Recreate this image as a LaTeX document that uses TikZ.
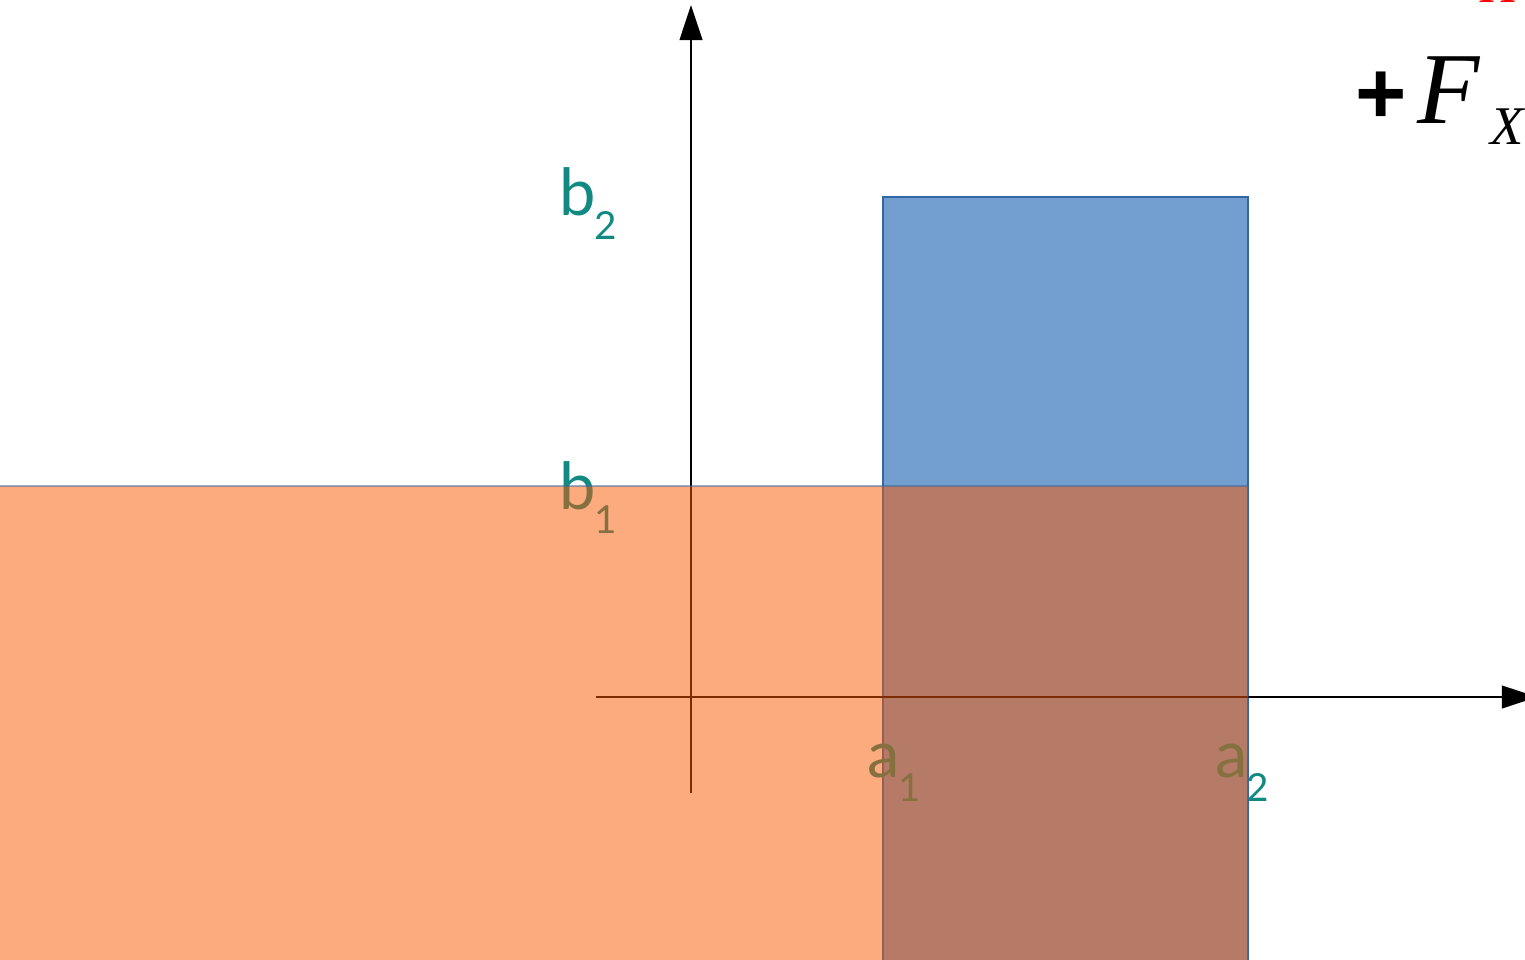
\documentclass[tikz,border=0pt]{standalone}
\usepackage{fontspec}
\setmainfont{Lato}
\newfontfamily\formulafont{Liberation Serif}
\newfontfamily\plusfont{Liberation Sans}
\usepackage{xcolor}
\usetikzlibrary{arrows.meta}

\definecolor{bluefill}{RGB}{114,159,207}
\definecolor{blueline}{RGB}{52,101,164}
\definecolor{orangefill}{RGB}{250,88,0}
\definecolor{labelteal}{RGB}{18,138,130}

% letter with a lowered index
\newcommand{\idxlabel}[2]{#1\hspace{-0.5pt}{\fontsize{11}{11}\selectfont\raisebox{-7pt}{#2}}}

\begin{document}
\begin{tikzpicture}[
  x=0.01cm, y=-0.01cm,
  axis/.style={line width=0.45pt, draw=black, -{Triangle[length=10pt, width=6.5pt]}},
  lbl/.style={anchor=base west, inner sep=0pt, text=labelteal,
              font=\fontsize{18.5}{18.5}\selectfont},
  >={Triangle[length=10pt, width=6.5pt]}
]
\useasboundingbox (0,0) rectangle (1525,959);

% upper box
\path[fill=bluefill, draw=blueline, line width=0.4pt]
  (883,197) rectangle (1248,975);

% axes
\coordinate (yfoot) at (691,793);
\coordinate (ytop)  at (691,5);
\coordinate (xfoot) at (596,697);
\coordinate (xtip)  at (1537,697);
\draw[axis] (yfoot) -- (ytop);
\draw[axis] (xfoot) -- (xtip);

% bounds
\node[lbl] (b2) at (559,215) {\idxlabel{b}{2}};
\node[lbl] (b1) at (559,509) {\idxlabel{b}{1}};
\node[lbl] (a1) at (867,777) {\idxlabel{a}{1}};
\node[lbl] (a2) at (1215,777) {\idxlabel{a}{2}};

% lower box
\path[fill=orangefill, fill opacity=0.5, draw=blueline, draw opacity=0.5, line width=0.4pt]
  (-5,486) rectangle (1248,975);

% force
\node[anchor=base west, inner sep=0pt] (force) at (1355,123)
  {{\plusfont\bfseries\fontsize{25}{25}\selectfont +}\hspace{3pt}{\formulafont\itshape\fontsize{29}{29}\selectfont F}\hspace{3pt}{\formulafont\itshape\fontsize{15.5}{15.5}\selectfont\raisebox{-6pt}{X}}};
\node[anchor=base west, inner sep=0pt, text=red] (cut) at (1480,2)
  {\formulafont\itshape\fontsize{15}{15}\selectfont H};
\end{tikzpicture}
\end{document}
